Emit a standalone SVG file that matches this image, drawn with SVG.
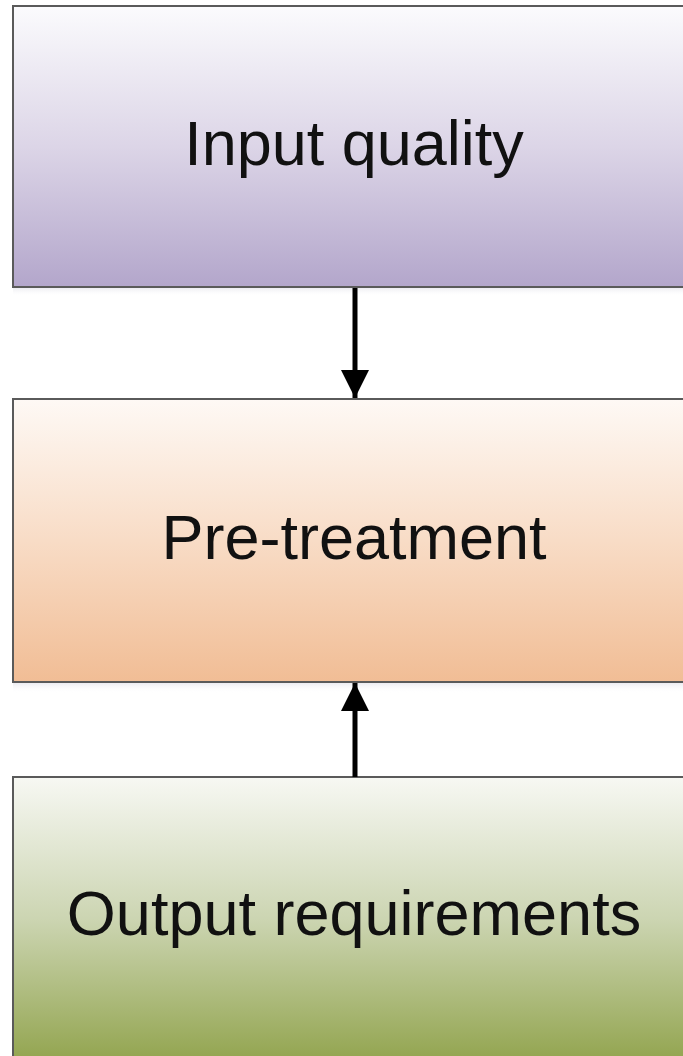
<svg xmlns="http://www.w3.org/2000/svg" width="683" height="1056" viewBox="0 0 683 1056">
  <style>
    .box { stroke: #5a5a5a; stroke-width: 2; }
    .label { font-family: "Liberation Sans", Arial, sans-serif; font-size: 63px; fill: #111; text-anchor: middle; }
    .conn { stroke: #000; stroke-width: 5; fill: none; }
  </style>
  <defs>
    <linearGradient id="gPurple" x1="0" y1="0" x2="0" y2="1">
      <stop offset="0" stop-color="#fbfbfd"/>
      <stop offset="0.5" stop-color="#dcd5e7"/>
      <stop offset="1" stop-color="#b3a6cb"/>
    </linearGradient>
    <linearGradient id="gOrange" x1="0" y1="0" x2="0" y2="1">
      <stop offset="0" stop-color="#fef9f5"/>
      <stop offset="0.5" stop-color="#f8dcc6"/>
      <stop offset="1" stop-color="#f1bd95"/>
    </linearGradient>
    <linearGradient id="gGreen" x1="0" y1="0" x2="0" y2="1">
      <stop offset="0" stop-color="#f7f8f3"/>
      <stop offset="0.5" stop-color="#ccd5b2"/>
      <stop offset="1" stop-color="#93a550"/>
    </linearGradient>
    <linearGradient id="gShadow" x1="0" y1="0" x2="0" y2="1">
      <stop offset="0" stop-color="#e8e8ee" stop-opacity="0.8"/>
      <stop offset="1" stop-color="#ffffff" stop-opacity="0"/>
    </linearGradient>
    <marker id="arrow" viewBox="0 0 10 10" refX="10" refY="5" markerWidth="5.6" markerHeight="5.6" markerUnits="strokeWidth" orient="auto">
      <path d="M0,0 L10,5 L0,10 z" fill="#000"/>
    </marker>
  </defs>

  <rect x="0" y="0" width="683" height="1056" fill="#ffffff"/>

  <g id="node-input">
    <rect x="13" y="288" width="690" height="8" fill="url(#gShadow)"/>
    <rect class="box" x="13" y="6" width="690" height="281" fill="url(#gPurple)"/>
    <text class="label" x="354" y="165">Input quality</text>
  </g>

  <g id="node-pretreatment">
    <rect x="13" y="683" width="690" height="10" fill="url(#gShadow)"/>
    <rect class="box" x="13" y="399" width="690" height="283" fill="url(#gOrange)"/>
    <text class="label" x="354" y="559">Pre-treatment</text>
  </g>

  <g id="node-output">
    <rect class="box" x="13" y="777" width="690" height="283" fill="url(#gGreen)"/>
    <text class="label" x="354" y="935">Output requirements</text>
  </g>

  <g id="connectors">
    <line class="conn" x1="355" y1="288" x2="355" y2="398" marker-end="url(#arrow)"/>
    <line class="conn" x1="355" y1="777" x2="355" y2="683" marker-end="url(#arrow)"/>
  </g>
</svg>
